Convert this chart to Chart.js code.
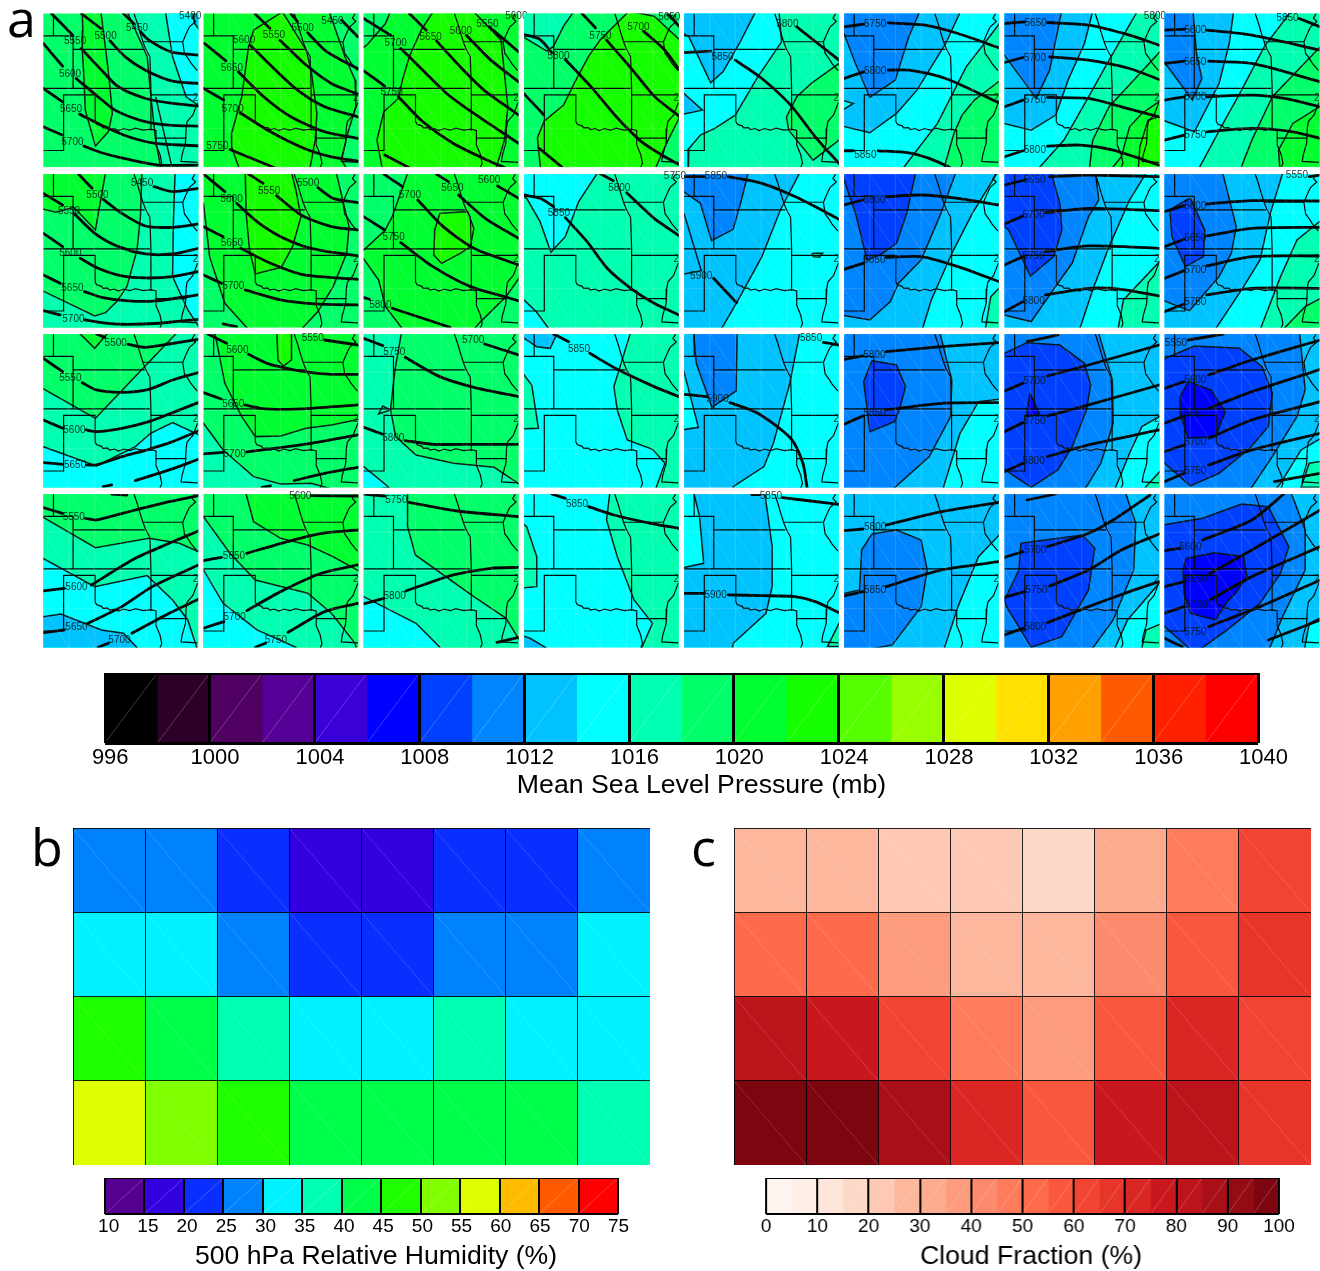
<!DOCTYPE html>
<html><head><meta charset="utf-8">
<style>
html,body{margin:0;padding:0;background:#fff;width:1320px;height:1271px;overflow:hidden}
canvas{position:absolute;display:block}
.tag{position:absolute;font-family:"Open Sans",sans-serif;color:#000;line-height:1}
</style>
<script src="https://cdn.jsdelivr.net/npm/chart.js@4"></script>
</head><body>
<div class="tag" style="left:7px;top:-9px;font-size:52px">a</div>
<div class="tag" style="left:31px;top:820px;font-size:52px">b</div>
<div class="tag" style="left:691px;top:820px;font-size:52px">c</div>
<script>
// ---------- colour bars ----------
const mslpEdges=[996,998,1000,1002,1004,1006,1008,1010,1012,1014,1016,1018,1020,1022,1024,1026,1028,1030,1032,1034,1036,1038,1040];
const mslpColors=['#000000','#2d0028','#500060','#550096','#3a00d8','#0000ff','#0040ff','#0085ff','#00c2ff','#00ffff','#00ffb0','#00ff68','#00ff30','#16ff00','#55ff00','#99ff00','#ddff00','#ffe000','#ffa000','#ff5a00','#ff2000','#ff0000'];
const mslpTicks=[996,1000,1004,1008,1012,1016,1020,1024,1028,1032,1036,1040];
const rhEdges=[10,15,20,25,30,35,40,45,50,55,60,65,70,75];
const rhColors=['#55008f','#3300e0','#0a2eff','#0082ff','#00f2ff','#00ffb0','#00ff48','#1eff00','#80ff00','#deff00','#ffbb00','#ff5a00','#ff0000'];
const cfEdges=[0,5,10,15,20,25,30,35,40,45,50,55,60,65,70,75,80,85,90,95,100];
const cfColors=['#fff5f0','#ffeee6','#fee5d9','#fed8c6','#fdc9b4','#fdb79c','#fcab8f','#fc9b7d','#fc8b6d','#fe7c5c','#fe6b4b','#f9573e','#f14432','#e8352a','#da2723','#c9181d','#bc141a','#a80f17','#930b13','#7d050f'];
// ---------- panels b and c ----------
const rhRow1=[27,27,22,17,17,22,22,27];
const rhRow2=[32,32,27,22,22,27,27,32];
const rhRow3=[47,42,37,32,32,37,32,32];
const rhRow4=[57,52,47,42,42,42,42,37];
const cfRow1=[27,27,22,22,17,32,47,62];
const cfRow2=[52,52,37,27,27,42,57,67];
const cfRow3=[82,77,62,47,37,57,72,62];
const cfRow4=[97,97,87,72,57,77,82,67];
const timeSteps=['1','2','3','4','5','6','7','8'];
// ---------- panel a : frame of each column / row in reading units ----------
const colX0=[128,602,1076,12,10,402,795,1187];
const colW=[458,458,456,462,378,378,378,378];
const rowY0=[40,522,12,492];
const rowY0c4=[17,497,12,492];
const colPx=[43.3,203.5,363.7,524,684,844,1004.5,1164.5];
const rowPx=[13.5,174,334,494];
const mslpBase=[
 [1018,1020,1020,1018,1016,1014,1016,1014],
 [1018,1020,1020,1016,1014,1014,1014,1014],
 [1016,1018,1018,1014,1012,1012,1012,1012],
 [1016,1018,1018,1014,1014,1012,1012,1012]];
// state outlines, in map units
const stateLines=[
 [30,0,30,67],[0,67,88,67,88,225],[88,108,300,108],[0,225,315,225],
 [0,412,60,412,60,245,153,245,153,325,158,333,172,338,176,344,190,343,196,349,210,346,222,352,238,346,255,351,272,345,296,351,318,348,333,352,333,395,345,425,350,450,342,470],
 [318,225,318,352],[318,245,456,245],[333,375,423,375],[295,85,412,85],
 [268,0,278,30,285,55,296,90,305,112,315,130,318,225],
 [448,0,440,14,450,24,432,40,427,50,412,85,417,120,428,135,437,150,455,172],
 [456,268,442,305,425,325,422,345,420,390,410,425,407,445,456,448]];
const meshX=[76,152,228,304,380];
const meshY=[115,230,345];
// row 1
const r1c1Fill=[[1020,[242,10,245,90,243,150,248,230,252,330,282,438,320,395,332,340,322,230,315,170,295,10]],[1016,[365,10,435,170,447,300,460,420,480,530,620,530,620,10]],[0,[460,290,485,400,515,530]],[1014,[485,10,510,170,550,290,620,340,620,10]],[1012,[565,10,575,70,620,130,620,10]]];
const r1c1Thick=[[128,130,185,198],[152,40,215,105],[240,40,298,85],[365,40,395,70],[415,95,440,120,505,155,586,165],[325,122,370,170,430,210,510,243,586,250],[240,145,300,210,350,260,430,295,510,310,586,318],[225,235,290,290,340,330,420,362,500,375,586,378],[235,342,310,380,380,410,460,430,586,437],[248,438,300,458,380,478,470,495,586,495],[128,265,185,305],[128,380,182,404]];
const r1c1Text=[['5400',562,47],['5450',405,83],['5500',312,107],['5550',222,124],['5600',207,221],['5650',210,326],['5700',214,425]];
const r1c2Fill=[[1022,[750,90,835,35,905,150,920,210,937,340,932,420,912,530,716,530,685,440,685,400,715,290,735,140]],[1018,[965,10,1020,170,1050,240,1052,320,1025,410,1010,480,1040,530,1100,530,1100,10]]];
const r1c2Thick=[[605,130,668,182],[755,42,798,84],[860,40,880,65],[910,98,960,150,1000,175,1058,205],[828,120,900,190,980,250,1058,282],[740,135,810,205,880,270,960,320,1058,350],[705,215,780,290,860,350,960,395,1058,415],[710,338,800,395,900,445,980,470,1058,483],[680,448,810,502],[602,265,662,300],[1010,60,1058,110]];
const r1c2Text=[['5450',983,62],['5500',895,84],['5550',810,104],['5600',722,119],['5650',686,203],['5700',688,327],['5750',643,437]];
const r1c3Fill=[[1022,[1280,35,1245,90,1210,170,1190,240,1178,295,1135,335,1115,420,1135,530,1458,530,1490,420,1500,320,1480,120,1400,35]],[1018,[1050,10,1165,10,1140,70,1085,135,1050,160]]];
const r1c3Thick=[[1076,55,1155,105],[1210,40,1260,90],[1290,122,1360,200,1430,270,1532,345],[1185,145,1250,210,1320,280,1400,340,1532,430],[1178,290,1250,365,1340,430,1450,485,1490,502],[1378,105,1450,180,1532,245],[1445,80,1532,155],[1076,212,1138,258],[1138,465,1208,502]];
const r1c3Text=[['5600',1525,47],['5550',1440,71],['5600',1362,92],['5650',1273,110],['5700',1170,130],['5750',1158,277]];
const r1c4Fill=[[1016,[-10,-10,175,-10,130,55,100,115,80,130,-10,75]],[1022,[325,10,240,95,205,145,165,220,130,292,90,325,72,340,52,390,62,490,400,490,440,400,480,320,480,100,400,25]]];
const r1c4Thick=[[368,70,430,125,474,185],[258,97,330,180,400,265,474,325],[135,155,210,235,290,330,360,400,420,440,474,470],[185,17,225,60],[55,420,125,478],[12,258,70,320],[12,80,60,95,95,135],[440,17,474,55]];
const r1c4Text=[['5650',445,27],['5700',353,57],['5750',240,84],['5800',115,144]];
const r1c5Fill=[[1014,[240,10,248,125,190,230,135,345,85,385,50,405,22,445,20,530,-20,530,-20,10]],[1012,[195,10,145,130,105,215,75,248,22,110,-20,80,-20,10]],[1012,[-20,265,10,280,55,330,10,342,-20,345]],[1018,[420,165,388,190,320,250,285,290,260,350,265,390,325,480,388,420,420,400]]];
const r1c5Thick=[[10,157,75,153],[135,180,200,235,270,315,330,410,388,490],[285,80,388,180]];
const r1c5Text=[['5800',262,71],['5850',104,172]];
const r1c6Fill=[[1016,[800,40,700,200,630,370,530,530,800,530]],[1018,[800,225,720,300,690,345,670,400,640,530,800,530]],[1012,[695,10,650,130,580,270,530,340,465,398,370,370,370,10]],[1014,[370,290,425,310,370,350]],[1010,[595,10,560,110,527,240,465,292,430,190,402,100,370,80,370,10]]];
const r1c6Thick=[[402,80,450,72],[510,68,600,75,680,100,780,143],[402,235,450,215],[510,210,560,210,650,235,780,308],[402,452,425,452],[485,452,560,458,610,475,660,502]];
const r1c6Text=[['5750',478,72],['5800',478,212],['5850',454,464]];
const r1c7Fill=[[1014,[1130,10,1050,180,1000,290,940,420,860,530,760,530,760,10]],[1012,[1015,10,990,130,950,240,920,345,860,390,760,360,760,10]],[1010,[938,10,905,210,872,295,840,240,795,165,760,130,760,10]],[1018,[1200,120,1110,240,1050,320,1010,420,1000,530,1200,530]],[1020,[1200,280,1130,340,1100,380,1080,470,1040,530,1200,530]],[1022,[1200,340,1145,360,1125,440,1120,530,1200,530]]];
const r1c7Thick=[[795,70,845,65],[900,67,1000,75,1100,105,1172,135],[795,187,840,172],[905,170,1000,180,1100,205,1172,238],[795,320,840,300],[900,292,1000,295,1080,320,1172,350],[795,470,840,452],[900,438,980,435,1060,450,1172,495]];
const r1c7Text=[['5800',1162,47],['5650',871,68],['5700',869,174],['5750',869,300],['5800',869,450]];
const r1c8Fill=[[1012,[1358,10,1345,130,1320,250,1260,395,1160,350,1160,10]],[1010,[1255,10,1265,160,1278,235,1255,300,1195,200,1160,150,1160,10]],[1016,[1510,10,1430,140,1375,270,1330,370,1260,530,1600,530,1600,10]],[1018,[1590,110,1450,290,1400,420,1365,530,1590,530]],[1020,[1590,300,1500,370,1465,450,1470,530,1590,530]]];
const r1c8Thick=[[1187,90,1237,87],[1290,90,1400,105,1567,150],[1515,55,1567,80],[1187,190,1235,183],[1295,183,1400,190,1567,245],[1187,300,1235,290],[1290,290,1400,285,1480,295,1567,320],[1187,420,1235,405],[1290,395,1400,385,1500,395,1567,415]];
const r1c8Text=[['5850',1487,53],['5600',1262,89],['5650',1262,185],['5700',1262,292],['5750',1262,404]];
// row 2
const r2c1Fill=[[1020,[315,500,282,690,218,622,165,637,100,620,100,500]],[1016,[420,500,415,650,405,750,375,860,345,905,312,938,280,948,100,860,100,1000,620,1000,620,500]],[1014,[518,500,512,680,510,830,555,930,600,1000,620,1000,620,500]]];
const r2c1Thick=[[128,580,185,615],[232,522,272,565],[455,560,510,575,586,565],[305,598,360,640,430,678,510,682,586,672],[218,640,280,700,350,740,430,762,510,762,586,745],[237,775,290,805,360,828,430,834,510,830,586,815],[250,875,300,892,380,903,460,903,586,885],[250,960,300,968,360,973,470,970,586,958],[128,700,185,740],[128,825,178,850],[128,932,178,945]];
const r2c1Text=[['5450',420,551],['5500',288,586],['5550',204,635],['5600',208,760],['5650',214,865],['5700',217,958]];
const r2c2Fill=[[1022,[725,500,728,640,738,750,755,822,832,802,865,740,890,650,875,570,858,500]],[1018,[990,500,1032,680,1025,760,985,860,940,935,880,1000,1100,1000,1100,500]],[1018,[602,610,620,770,665,910,745,1000,580,1000,580,600]]];
const r2c2Thick=[[602,522,665,575],[735,522,778,550],[940,563,985,595,1058,608],[818,587,890,645,980,680,1058,690],[700,610,760,665,830,710,920,745,1058,768],[712,745,800,790,900,825,1058,838],[725,870,830,900,930,912,1058,915],[602,680,660,710],[602,825,655,850],[660,972,700,980]];
const r2c2Text=[['5500',911,551],['5550',796,574],['5600',685,598],['5650',686,731],['5700',690,860]];
const r2c3Fill=[[1022,[1300,640,1382,635,1400,685,1390,740,1360,760,1305,790,1282,765,1285,690]],[1018,[1050,500,1212,500,1160,650,1138,692,1050,775]],[1018,[1560,795,1495,890,1420,965,1390,1000,1560,1000]],[1018,[1050,740,1120,840,1140,920,1200,1000,1050,1000]]];
const r2c3Thick=[[1135,522,1190,560],[1290,522,1325,545],[1470,558,1532,595],[1355,585,1440,660,1532,715],[1235,600,1310,680,1400,745,1532,795],[1185,728,1280,800,1390,860,1490,890,1532,903],[1160,925,1330,982],[1076,650,1138,690],[1076,893,1093,898]];
const r2c3Text=[['5600',1445,542],['5650',1337,566],['5700',1212,587],['5750',1164,712],['5800',1125,917]];
const r2c4Fill=[[1014,[240,480,175,580,135,685,92,732,60,640,20,570,-10,550,-10,480]],[1014,[-10,870,12,875,50,912,85,960,-10,975]]];
const r2c4Thick=[[12,560,60,570,100,595],[135,628,200,700,260,780,330,840,400,885,474,920],[318,553,400,630,474,682],[240,497,278,517]];
const r2c4Text=[['5750',462,503],['5800',296,539],['5850',116,614]];
const r2c5Fill=[[1012,[300,500,245,630,200,770,140,905,95,1000,-20,1000,-20,500]],[1010,[170,500,150,600,130,688,77,722,50,610,-20,550,-20,500]],[0,[10,640,52,812,10,822]],[1016,[322,760,348,760,340,772,325,770]]];
const r2c5Thick=[[10,530,60,530],[118,530,200,550,290,595,388,658],[82,835,138,908]];
const r2c5Text=[['5850',88,530],['5900',52,830]];
const r2c6Fill=[[1012,[785,500,715,640,665,760,615,900,590,1000,370,1000,370,500]],[1010,[680,500,635,650,590,780,535,850,515,905,465,960,370,940,370,500]],[1008,[580,500,555,640,530,730,490,765,458,780,430,640,402,540,370,530,370,500]],[1016,[800,840,760,890,745,1000,800,1000]]];
const r2c6Thick=[[402,615,448,600],[505,590,590,585,680,595,780,615],[402,808,448,790],[505,772,590,770,680,800,780,845]];
const r2c6Text=[['5800',476,600],['5850',476,782]];
const r2c7Fill=[[1012,[1150,500,1100,600,1050,740,1010,870,975,1000,760,1000,760,500]],[1010,[1015,500,1025,600,1000,650,960,790,925,850,860,965,760,935,760,500]],[1008,[905,500,930,610,935,690,915,770,858,828,805,690,760,650,760,500]],[1016,[1200,750,1085,900,1070,1000,1200,1000]]];
const r2c7Thick=[[795,555,845,540],[905,530,1000,525,1172,530],[795,672,840,648],[895,638,1000,625,1172,632],[795,795,840,770],[895,755,1000,738,1172,745],[795,935,840,905],[895,885,1000,865,1080,868,1172,888]];
const r2c7Text=[['5650',868,540],['5700',866,647],['5750',866,768],['5800',866,905]];
const r2c8Fill=[[1012,[1480,500,1445,640,1420,780,1380,860,1310,990,1160,990,1160,500]],[1010,[1325,500,1362,680,1350,760,1320,830,1248,932,1160,890,1160,500]],[1008,[1250,595,1285,690,1282,770,1238,800,1205,710,1200,630,1240,600]],[1016,[1590,640,1510,720,1470,830,1420,990,1590,990]],[1018,[1590,880,1530,920,1475,990,1590,990]]];
const r2c8Thick=[[1540,530,1567,525],[1187,635,1235,617],[1290,612,1400,602,1567,603],[1187,740,1235,718],[1290,708,1400,685,1567,682],[1187,835,1235,812],[1290,798,1400,770,1567,768],[1187,935,1235,912],[1290,885,1400,865,1567,865]];
const r2c8Text=[['5550',1510,527],['5600',1262,620],['5650',1262,716],['5700',1262,812],['5750',1262,908]];
// row 3
const r3c1Fill=[[1018,[100,160,282,265,540,-10,100,-10]],[1020,[215,-10,280,55,335,-10]],[1014,[100,340,285,408,400,350,445,310,510,278,620,330,620,500,100,500]]];
const r3c1Thick=[[128,85,185,125],[285,12,310,22],[378,43,430,52,500,42,586,28],[243,158,285,180,360,187,440,178,510,150,586,128],[255,300,285,305,360,295,440,275,510,248,586,218],[128,398,185,403],[255,405,285,405,360,380,440,358,510,335,586,303],[400,452,500,420,586,388],[128,270,185,295],[305,470,330,465]];
const r3c1Text=[['5500',342,41],['5550',208,146],['5600',220,302],['5650',222,407]];
const r3c2Fill=[[1020,[632,-10,665,160,715,260,755,320,830,318,905,295,980,285,1100,260,1100,-10]],[1022,[818,-10,822,90,838,108,862,90,862,-10]],[1016,[570,250,602,280,660,360,750,440,830,462,920,460,990,480,570,490]]];
const r3c2Thick=[[615,12,670,40],[735,73,790,100,835,112,900,125,980,133,1058,133],[725,225,770,235,835,238,920,235,1058,225],[602,372,660,367],[730,366,835,352,920,340,1058,315],[870,452,960,430,1058,412],[775,472,800,468],[602,188,655,207],[960,30,1058,45]];
const r3c2Text=[['5550',925,26],['5600',702,60],['5650',690,222],['5700',694,372]];
const r3c3Fill=[[1016,[1190,-10,1168,120,1155,238,1170,320,1230,375,1340,400,1460,412,1560,480,1050,480,1050,-10]],[0,[1155,240,1120,252,1132,228,1155,240]],[1014,[1050,395,1076,410,1150,472,1050,490]]];
const r3c3Thick=[[1076,25,1132,47],[1198,82,1300,140,1400,172,1532,200],[1432,42,1532,75],[1198,332,1280,343,1400,343,1532,343],[1076,292,1130,312]];
const r3c3Text=[['5700',1398,32],['5750',1166,68],['5800',1163,326]];
const r3c4Fill=[[1016,[335,-10,280,170,290,240,320,330,395,358,432,400,400,490,500,490,500,-10]],[1016,[-10,105,35,165,55,295,-10,297]],[1012,[-10,-10,-10,10,50,50,90,55,120,-10]]];
const r3c4Thick=[[208,70,290,118,400,170,474,200],[100,12,145,35]];
const r3c4Text=[['5850',176,57]];
const r3c5Fill=[[1014,[295,-10,268,160,228,340,205,410,130,470,130,490,420,490,420,-10]],[1010,[32,-10,40,100,78,232,137,183,140,-10]],[1014,[-20,120,10,125,45,292,-20,305]]];
const r3c5Thick=[[10,193,65,200],[122,218,190,250,270,325,300,400,310,472],[350,37,388,45]];
const r3c5Text=[['5850',320,24],['5900',92,208]];
const r3c6Fill=[[1010,[632,-10,665,150,662,260,610,380,510,490,370,490,370,-10]],[1014,[800,205,730,215,685,310,640,490,800,490]],[1008,[470,92,530,105,552,170,537,240,525,275,465,305,450,155]]];
const r3c6Thick=[[402,88,448,78],[505,65,640,50,780,38],[402,283,448,258],[505,240,640,220,780,218]];
const r3c6Text=[['5800',476,77],['5850',476,250]];
const r3c7Fill=[[1010,[1020,-10,1058,150,1060,280,1030,400,985,490,760,490,760,-10]],[1008,[850,38,930,45,990,100,1005,165,995,240,960,350,925,420,860,472,760,390,760,90]],[1006,[857,190,880,250,850,262,850,240]],[1014,[1200,240,1130,290,1100,370,1060,490,1200,490]],[1016,[1200,390,1140,470,1130,490,1200,490]]];
const r3c7Thick=[[850,35,925,15],[795,183,840,160],[900,138,1000,105,1172,45],[795,305,840,278],[900,258,1000,225,1172,165],[795,425,840,400],[900,380,1000,345,1172,300]];
const r3c7Text=[['5700',868,155],['5750',868,275],['5800',866,395]];
const r3c8Fill=[[1010,[1515,-10,1530,180,1510,260,1450,380,1390,490,1160,490,1160,-10]],[1008,[1260,48,1370,55,1425,110,1450,190,1440,290,1395,355,1320,430,1250,468,1160,370,1160,100]],[1006,[1245,155,1300,180,1335,245,1312,320,1245,325,1225,250,1225,200]],[1014,[1590,310,1520,360,1470,460,1450,490,1590,490]],[1016,[1590,390,1540,400,1520,472,1590,472]]];
const r3c8Thick=[[1245,30,1330,12],[1187,175,1235,155],[1295,135,1400,90,1567,30],[1187,280,1235,258],[1295,235,1400,185,1567,118],[1187,365,1235,345],[1295,325,1400,270,1567,215],[1187,455,1235,430],[1295,405,1400,360,1567,310],[1455,455,1567,430]];
const r3c8Text=[['5550',1215,40],['5600',1262,150],['5650',1262,252],['5700',1262,338],['5750',1262,424]];
// row 4
const r4c1Fill=[[1018,[100,540,128,562,282,653,440,625,530,640,620,680,620,470,100,470]],[1014,[100,670,280,770,435,737,510,810,555,870,590,980,100,980]],[1012,[100,865,180,852,300,900,365,910,430,980,100,980]]];
const r4c1Thick=[[330,492,375,495],[128,533,185,550],[252,565,285,570,400,540,500,515,586,497],[128,783,190,775],[270,765,400,685,500,640,586,603],[128,908,190,900],[260,880,360,830,450,770,586,705],[290,952,320,940],[390,910,500,850,586,808]];
const r4c1Text=[['5550',218,563],['5600',226,773],['5650',226,892],['5700',353,932]];
const r4c2Fill=[[1020,[722,470,750,575,830,625,910,645,985,680,1090,740,1090,470]],[1016,[580,535,602,560,680,670,755,750,910,790,980,850,1050,940,1060,980,580,980]],[1014,[580,690,602,720,660,820,760,900,875,952,880,980,580,980]]];
const r4c2Thick=[[920,497,1058,498],[602,692,655,682],[730,670,850,635,950,610,1058,600],[602,895,662,875],[730,842,830,785,950,730,1058,705],[755,952,785,940],[852,907,960,845,1058,820]];
const r4c2Text=[['5600',888,500],['5650',692,680],['5700',694,862],['5750',816,930]];
const r4c3Fill=[[1016,[1205,470,1205,590,1228,675,1400,800,1495,865,1540,940,1540,980,1050,980,1050,470]],[1014,[1050,795,1076,800,1230,880,1300,952,1310,980,1050,980]]];
const r4c3Thick=[[1076,492,1138,498],[1210,517,1350,543,1532,560],[1200,783,1250,765,1340,735,1450,715,1532,712],[1076,822,1135,805],[1468,937,1532,922]];
const r4c3Text=[['5750',1172,510],['5800',1167,800]];
const r4c4Fill=[[1016,[270,470,258,570,290,680,340,810,395,880,360,960,500,960,500,470]],[1016,[-10,565,20,590,50,680,50,770,-10,775]],[1012,[-10,912,30,925,80,955,-10,960]]];
const r4c4Thick=[[205,530,280,555,390,580,474,595],[95,492,135,505]];
const r4c4Text=[['5850',170,523]];
const r4c5Fill=[[1012,[205,470,225,650,225,770,210,850,130,940,125,980,-20,980,-20,470]],[1014,[30,470,48,560,58,700,-20,720,-20,470]],[1016,[420,880,388,880,360,950,420,950]]];
const r4c5Thick=[[175,494,195,494],[250,503,388,523],[10,790,58,790],[118,795,200,797,280,800,330,815,388,848]];
const r4c5Text=[['5850',222,500],['5900',87,795]];
const r4c6Fill=[[1014,[800,590,730,680,680,830,640,980,800,980]],[1010,[470,612,530,600,590,630,605,720,590,830,520,945,370,980,370,800,440,780,445,660]]];
const r4c6Thick=[[402,602,448,597],[505,585,640,545,780,517],[402,798,448,785],[505,770,640,720,780,695]];
const r4c6Text=[['5800',478,593],['5850',478,780]];
const r4c7Fill=[[1010,[1085,470,1115,580,1110,720,1060,870,995,980,760,980,760,470]],[1008,[835,640,985,615,1015,655,1000,780,935,920,860,952,800,830,795,810,830,720]],[1014,[1200,720,1095,870,1055,980,1200,980]],[1016,[1200,870,1140,900,1125,980,1200,980]]];
const r4c7Thick=[[850,510,920,492],[795,682,840,665],[900,650,1000,610,1060,570,1150,495],[795,802,845,785],[905,768,1000,720,1080,660,1172,612],[795,915,840,895],[900,878,1000,830,1100,785,1172,755]];
const r4c7Text=[['5700',870,661],['5750',873,781],['5800',870,892]];
const r4c8Fill=[[1010,[1490,470,1530,600,1530,720,1475,860,1435,980,1160,980,1160,470]],[1008,[1280,565,1375,522,1440,530,1490,650,1470,730,1420,820,1340,900,1260,970,1160,860,1160,590]],[1006,[1240,685,1310,668,1380,680,1388,740,1360,790,1340,815,1312,870,1250,850,1235,790,1232,720]],[1014,[1590,850,1540,880,1525,980,1590,980]]];
const r4c8Thick=[[1187,662,1225,655],[1280,630,1400,570,1478,492],[1187,770,1235,755],[1298,730,1400,660,1567,540],[1187,850,1235,830],[1298,810,1400,740,1567,650],[1295,890,1420,830,1567,750],[1187,925,1230,950],[1440,930,1567,870]];
const r4c8Text=[['5600',1250,651],['5650',1265,747],['5700',1265,827],['5750',1262,908]];

const allFill=[[r1c1Fill,r1c2Fill,r1c3Fill,r1c4Fill,r1c5Fill,r1c6Fill,r1c7Fill,r1c8Fill],[r2c1Fill,r2c2Fill,r2c3Fill,r2c4Fill,r2c5Fill,r2c6Fill,r2c7Fill,r2c8Fill],[r3c1Fill,r3c2Fill,r3c3Fill,r3c4Fill,r3c5Fill,r3c6Fill,r3c7Fill,r3c8Fill],[r4c1Fill,r4c2Fill,r4c3Fill,r4c4Fill,r4c5Fill,r4c6Fill,r4c7Fill,r4c8Fill]];
const allThick=[[r1c1Thick,r1c2Thick,r1c3Thick,r1c4Thick,r1c5Thick,r1c6Thick,r1c7Thick,r1c8Thick],[r2c1Thick,r2c2Thick,r2c3Thick,r2c4Thick,r2c5Thick,r2c6Thick,r2c7Thick,r2c8Thick],[r3c1Thick,r3c2Thick,r3c3Thick,r3c4Thick,r3c5Thick,r3c6Thick,r3c7Thick,r3c8Thick],[r4c1Thick,r4c2Thick,r4c3Thick,r4c4Thick,r4c5Thick,r4c6Thick,r4c7Thick,r4c8Thick]];
const allText=[[r1c1Text,r1c2Text,r1c3Text,r1c4Text,r1c5Text,r1c6Text,r1c7Text,r1c8Text],[r2c1Text,r2c2Text,r2c3Text,r2c4Text,r2c5Text,r2c6Text,r2c7Text,r2c8Text],[r3c1Text,r3c2Text,r3c3Text,r3c4Text,r3c5Text,r3c6Text,r3c7Text,r3c8Text],[r4c1Text,r4c2Text,r4c3Text,r4c4Text,r4c5Text,r4c6Text,r4c7Text,r4c8Text]];

// ---------- drawing ----------
Chart.defaults.animation=false;
Chart.defaults.responsive=false;
Chart.defaults.font.family='"Liberation Sans",Arial,sans-serif';
Chart.defaults.color='#000';
function addCanvas(left,top,w,h){const c=document.createElement('canvas');c.width=w;c.height=h;c.style.cssText=`left:${left}px;top:${top}px;width:${w}px;height:${h}px`;document.body.appendChild(c);return c;}
function pts(f){const o=[];for(let i=0;i<f.length;i+=2)o.push({x:f[i],y:f[i+1]});return o;}
function mslpColor(level){const i=mslpEdges.indexOf(level);return mslpColors[i];}
const offPlugin={legend:{display:false},tooltip:{enabled:false},title:{display:false}};

const mapPlugin={id:'mapPlugin',
 beforeDatasetsDraw(chart,a,o){const {ctx,chartArea:c}=chart;ctx.save();ctx.fillStyle=o.base;ctx.fillRect(c.left,c.top,c.width,c.height);ctx.restore();},
 beforeDatasetDraw(chart,{index,meta}){const d=chart.data.datasets[index];if(!d.polyFill)return;const {ctx,chartArea:c}=chart;ctx.save();ctx.beginPath();ctx.rect(c.left,c.top,c.width,c.height);ctx.clip();ctx.beginPath();meta.data.forEach((p,i)=>i?ctx.lineTo(p.x,p.y):ctx.moveTo(p.x,p.y));ctx.closePath();ctx.fillStyle=d.polyFill;ctx.fill();ctx.restore();},
 afterDatasetsDraw(chart,a,o){const {ctx,chartArea:c,scales:s}=chart;ctx.save();
  ctx.beginPath();ctx.rect(c.left,c.top,c.width,c.height);ctx.clip();
  ctx.strokeStyle='rgba(255,255,255,.2)';ctx.lineWidth=.7;ctx.beginPath();
  const xs=[0,...meshX,458],ys=[0,...meshY,462];
  xs.forEach(x=>{const p=s.xm.getPixelForValue(x);ctx.moveTo(p,c.top);ctx.lineTo(p,c.bottom);});
  ys.forEach(y=>{const p=s.ym.getPixelForValue(y);ctx.moveTo(c.left,p);ctx.lineTo(c.right,p);});
  xs.slice(0,-1).forEach((x,i)=>ys.slice(0,-1).forEach((y,j)=>{ctx.moveTo(s.xm.getPixelForValue(x),s.ym.getPixelForValue(y));ctx.lineTo(s.xm.getPixelForValue(xs[i+1]),s.ym.getPixelForValue(ys[j+1]));}));
  ctx.stroke();ctx.restore();
  chart.data.datasets.forEach((d,i)=>{if(!d.textLabels)return;const m=chart.getDatasetMeta(i);ctx.save();ctx.font='10px "Liberation Sans",Arial,sans-serif';ctx.fillStyle='rgba(0,25,20,.88)';ctx.textAlign='center';ctx.textBaseline='middle';m.data.forEach((p,k)=>ctx.fillText(d.textLabels[k],p.x,p.y));ctx.restore();});
 }};

for(let r=0;r<4;r++)for(let c=0;c<8;c++){
 const pad=8,w=155,h=153.6;
 const x0=colX0[c],y0=(c===3?rowY0c4:rowY0)[r];
 const fills=allFill[r][c],thick=allThick[r][c],text=allText[r][c];
 const ds=[];
 fills.forEach(([lv,f])=>{const p=pts(f);if(lv)p.push(p[0]);ds.push({data:p,showLine:true,pointRadius:0,borderColor:'rgba(8,20,16,.95)',borderWidth:1.5,polyFill:lv?mslpColor(lv):null,tension:0});});
 stateLines.forEach(f=>ds.push({data:pts(f),xAxisID:'xm',yAxisID:'ym',showLine:true,pointRadius:0,borderColor:'#050a08',borderWidth:1.2,tension:0}));
 thick.forEach(f=>ds.push({data:pts(f),showLine:true,pointRadius:0,borderColor:'#060808',borderWidth:2.8,borderCapStyle:'round',tension:.25}));
 ds.push({data:text.map(t=>({x:t[1],y:t[2]})),textLabels:text.map(t=>t[0]),pointRadius:0,showLine:false});
 ds.push({data:[{x:450,y:255}],xAxisID:'xm',yAxisID:'ym',textLabels:['2'],pointRadius:0,showLine:false});
 ds.forEach((d,i)=>d.order=ds.length-i);
 const hid={display:false};
 const cv=addCanvas(Math.floor(colPx[c])-pad,Math.floor(rowPx[r])-pad,Math.ceil(w)+2*pad+1,Math.ceil(h)+2*pad+1);
 const fx=colPx[c]-Math.floor(colPx[c]),fy=rowPx[r]-Math.floor(rowPx[r]);
 new Chart(cv,{type:'scatter',data:{datasets:ds},plugins:[mapPlugin],
  options:{events:[],layout:{padding:{left:pad+fx,top:pad+fy,right:cv.width-pad-fx-w,bottom:cv.height-pad-fy-h}},
   plugins:{...offPlugin,mapPlugin:{base:mslpColor(mslpBase[r][c])}},
   scales:{x:{...hid,type:'linear',min:x0,max:x0+colW[c]},y:{...hid,type:'linear',reverse:true,min:y0,max:y0+461},
    xm:{...hid,type:'linear',axis:'x',min:0,max:458},ym:{...hid,type:'linear',axis:'y',reverse:true,min:0,max:462}}}});
}

const seam={id:'seam',afterDatasetsDraw(chart,a,o){const {ctx}=chart;ctx.save();ctx.strokeStyle=o.color||'rgba(255,255,255,.32)';ctx.lineWidth=.7;ctx.beginPath();
 chart.data.datasets.forEach((d,i)=>chart.getDatasetMeta(i).data.forEach(b=>{const p=b.getProps(['x','y','base','width','height']);
  if(o.horizontal){ctx.moveTo(p.base,p.y+p.height/2);ctx.lineTo(p.x,p.y-p.height/2);}
  else{ctx.moveTo(p.x-p.width/2,Math.min(p.y,p.base));ctx.lineTo(p.x+p.width/2,Math.max(p.y,p.base));}
 }));ctx.stroke();ctx.restore();}};

function colourBar(cfg){
 const pad=50,axisH=cfg.axisH;
 const cv=addCanvas(cfg.left-pad,cfg.top,cfg.width+2*pad,cfg.height+axisH);
 new Chart(cv,{type:'bar',plugins:[seam],
  data:{labels:[cfg.title],datasets:cfg.colors.map((col,i)=>({data:[[cfg.edges[i],cfg.edges[i+1]]],backgroundColor:col,borderWidth:0,grouped:false,barPercentage:1,categoryPercentage:1}))},
  options:{indexAxis:'y',events:[],layout:{padding:{left:pad,right:pad,top:0,bottom:0}},plugins:{...offPlugin,seam:{horizontal:true}},
   scales:{
    x:{type:'linear',min:cfg.min,max:cfg.max,position:'bottom',afterFit(s){s.height=0;},ticks:{display:false,stepSize:cfg.step},border:{display:false},grid:{color:'#000',lineWidth:cfg.lw,drawTicks:false,z:2}},
    xl:{type:'linear',axis:'x',position:'bottom',min:cfg.labelMin,max:cfg.labelMax,
     afterFit(s){s.height=axisH;
      if(!s._shifted){s._shifted=true;const draw=s.drawTitle;s.drawTitle=function(){const c=this.ctx;c.save();c.translate(cfg.titleShift,0);draw.call(this);c.restore();};}},
     afterBuildTicks(s){s.ticks=cfg.ticks.map(v=>({value:v}));},
     ticks:{font:{size:cfg.tickSize},color:'#000',padding:cfg.tickPad,maxRotation:0,autoSkip:false,callback:v=>String(v)},border:{display:false},grid:{display:false,drawTicks:false},
     title:{display:true,text:cfg.title,font:{size:cfg.titleSize},color:'#000',padding:{top:0,bottom:0}}},
    y:{type:'category',afterFit(s){s.width=0;},ticks:{display:false},border:{display:false},grid:{offset:true,color:'#000',lineWidth:cfg.lw,drawTicks:false,z:2}}
   }}});
}
colourBar({left:105,top:673,width:1153,height:70,edges:mslpEdges,colors:mslpColors,min:996,max:1040,step:4,lw:3,ticks:mslpTicks,labelMin:995.8,labelMax:1039.79,tickSize:22,tickPad:2,title:'Mean Sea Level Pressure (mb)',titleSize:26.7,titleShift:20,axisH:59});
colourBar({left:105,top:1178,width:513,height:36,edges:rhEdges,colors:rhColors,min:10,max:75,step:5,lw:2,ticks:rhEdges,labelMin:9.53,labelMax:74.94,tickSize:19,tickPad:1,title:'500 hPa Relative Humidity (%)',titleSize:26.6,titleShift:14.5,axisH:59});
colourBar({left:766,top:1178,width:512.5,height:36,edges:cfEdges,colors:cfColors,min:0,max:100,step:10,lw:2,ticks:[0,10,20,30,40,50,60,70,80,90,100],labelMin:0,labelMax:100,tickSize:19,tickPad:1,title:'Cloud Fraction (%)',titleSize:26.6,titleShift:8.5,axisH:59});

function heat(cfg){
 const cv=addCanvas(cfg.left,cfg.top,cfg.width,cfg.height);
 const lookup=v=>cfg.colors[Math.floor((v-cfg.min)/cfg.bin)];
 new Chart(cv,{type:'bar',plugins:[seam],
  data:{labels:timeSteps,datasets:cfg.rows.map((row,r)=>({data:row.map(()=>[r,r+1]),backgroundColor:row.map(lookup),borderWidth:0,grouped:false,barPercentage:1,categoryPercentage:1}))},
  options:{events:[],layout:{padding:0},plugins:{...offPlugin,seam:{horizontal:false,color:cfg.seam}},
   scales:{x:{type:'category',afterFit(s){s.height=0;},ticks:{display:false},border:{display:false},grid:{offset:true,color:'rgba(0,0,0,.85)',lineWidth:1,drawTicks:false,z:2}},
    y:{type:'linear',reverse:true,min:0,max:4,afterFit(s){s.width=0;},ticks:{display:false,stepSize:1},border:{display:false},grid:{color:'rgba(0,0,0,.85)',lineWidth:1,drawTicks:false,z:2}}}}});
}
heat({left:73,top:828,width:577,height:337,rows:[rhRow1,rhRow2,rhRow3,rhRow4],colors:rhColors,min:10,bin:5,seam:'rgba(255,255,255,.22)'});
heat({left:734,top:828,width:577,height:337,rows:[cfRow1,cfRow2,cfRow3,cfRow4],colors:cfColors,min:0,bin:5,seam:'rgba(255,255,255,.22)'});
</script>
</body></html>
